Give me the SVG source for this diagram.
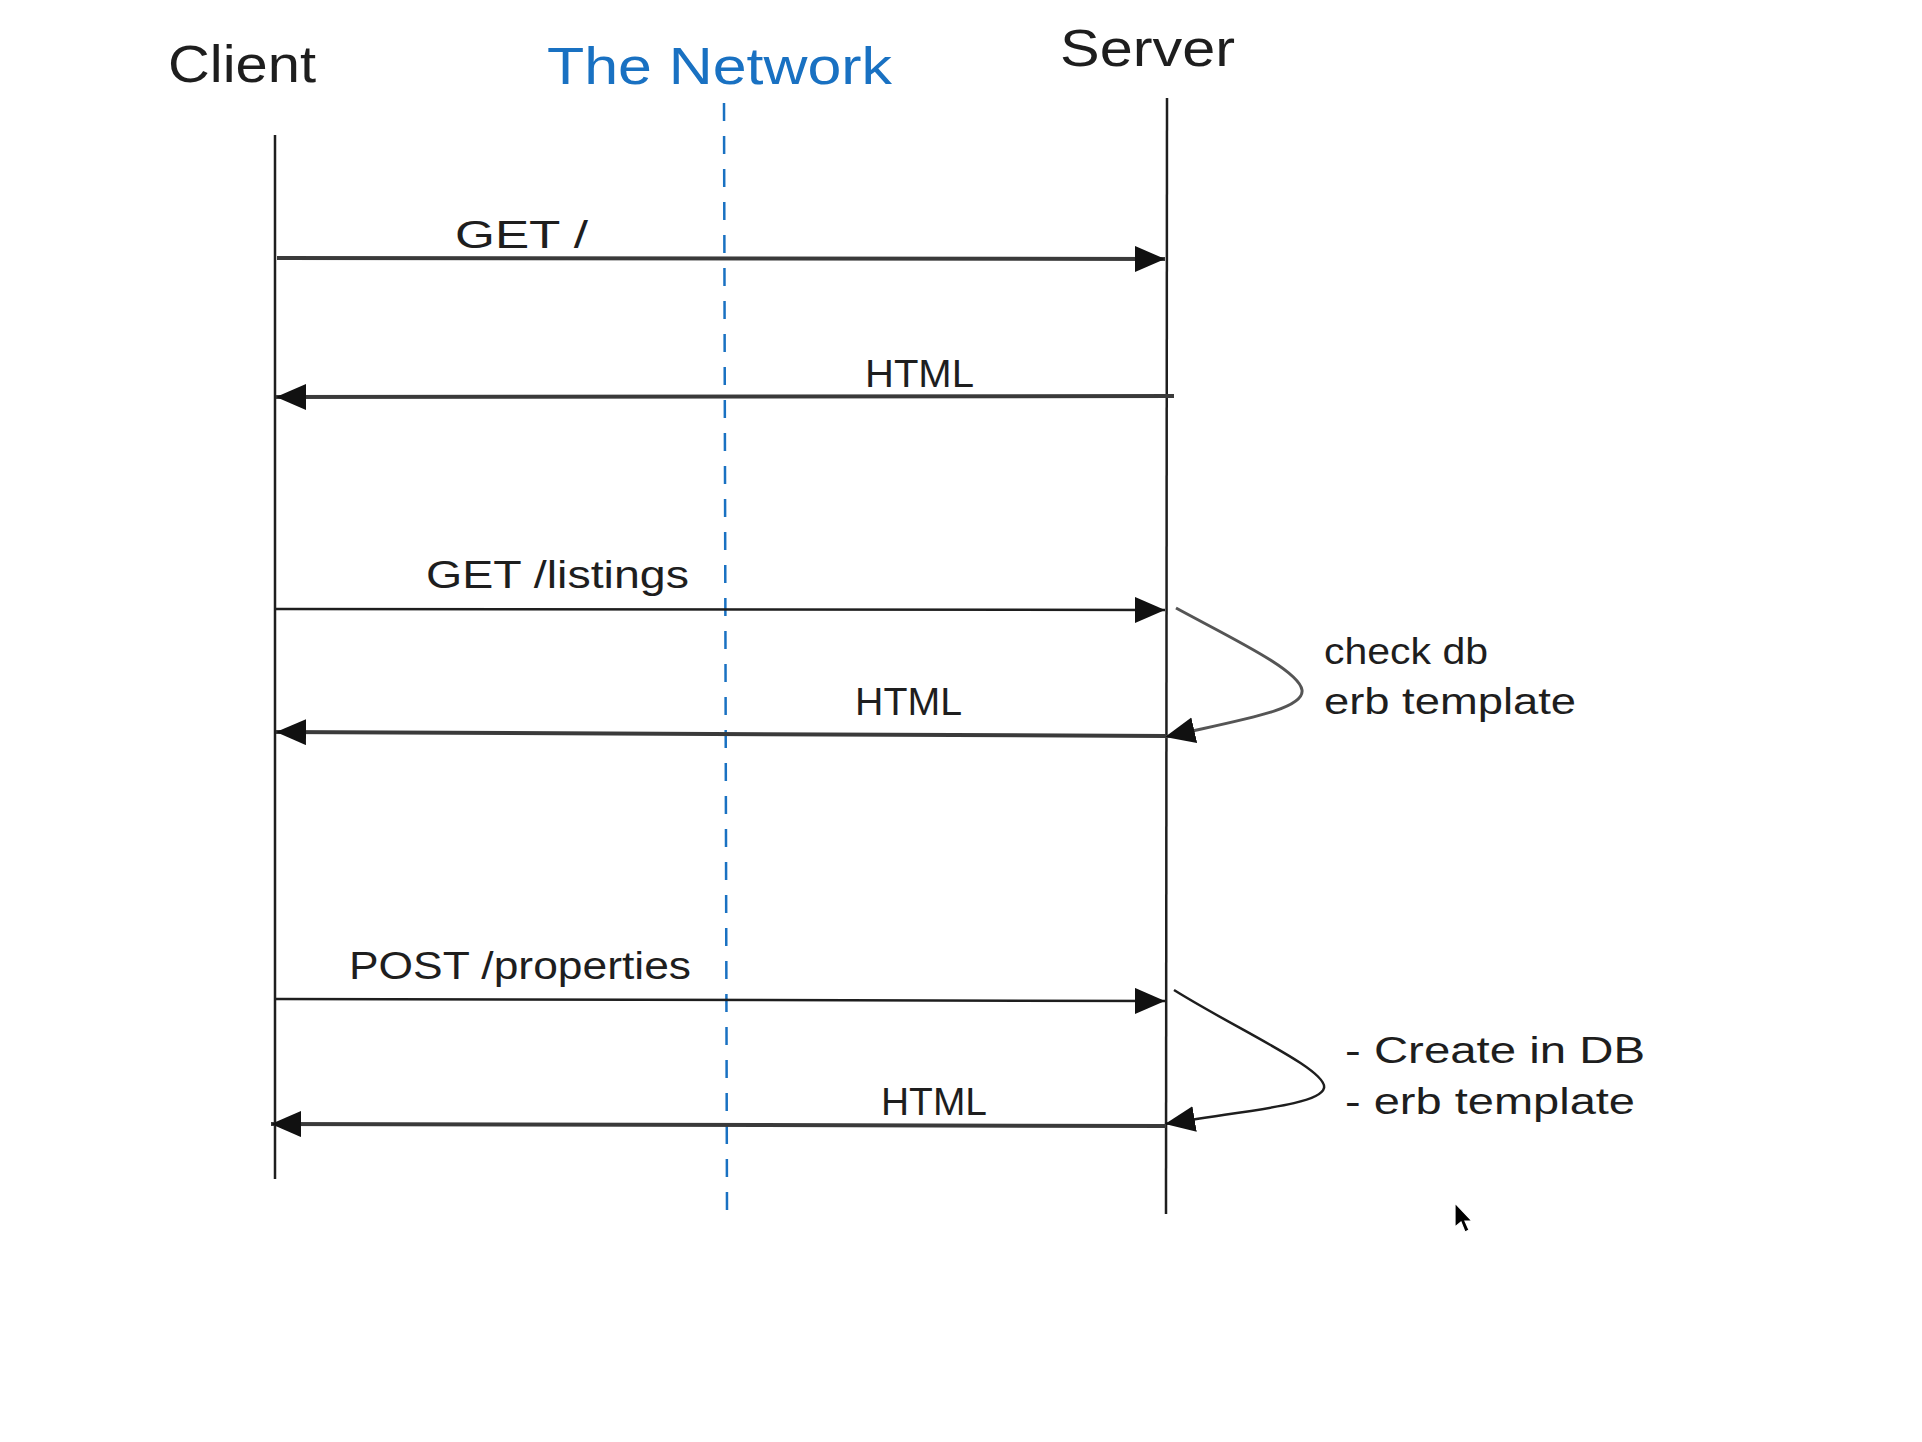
<svg xmlns="http://www.w3.org/2000/svg" width="1922" height="1442" viewBox="0 0 1922 1442">
<style>
  text { font-family: "Liberation Sans", "DejaVu Sans", sans-serif; fill: #1e1e1e; }
  .title { font-size: 52px; }
  .label { font-size: 38px; }
  .note { font-size: 37px; }
  .life { stroke: #1e1e1e; stroke-width: 2.5; fill: none; }
  .net { stroke: #1971c2; stroke-width: 2.5; stroke-dasharray: 18 15; fill: none; }
  .msg { stroke: #1e1e1e; stroke-width: 2.5; fill: none; }
  .msg-thick { stroke: #3a3a3a; stroke-width: 4; fill: none; }
</style>
<defs>
  <marker id="arrow" markerUnits="userSpaceOnUse" markerWidth="32" markerHeight="28" refX="30" refY="13" orient="auto" viewBox="0 0 32 28">
    <path d="M0,0 L30,13 L0,26 Z" fill="#111"/>
  </marker>
</defs>
<rect width="1922" height="1442" fill="#ffffff"/>

<g id="client">
  <text class="title" x="168" y="82" textLength="148" lengthAdjust="spacingAndGlyphs">Client</text>
  <line class="life" x1="275" y1="135" x2="275" y2="1179"/>
</g>
<g id="network">
  <text class="title" x="547" y="84" textLength="345" lengthAdjust="spacingAndGlyphs" style="fill:#1971c2">The Network</text>
  <line class="net" x1="724" y1="103" x2="727" y2="1213"/>
</g>
<g id="server">
  <text class="title" x="1060" y="66" textLength="175" lengthAdjust="spacingAndGlyphs">Server</text>
  <line class="life" x1="1167" y1="98" x2="1166" y2="1214"/>
</g>
<g id="note-listings">
  <text class="note" x="1324" y="664" textLength="164" lengthAdjust="spacingAndGlyphs">check db</text>
  <text class="note" x="1324" y="714" textLength="252" lengthAdjust="spacingAndGlyphs">erb template</text>
</g>
<g id="note-properties">
  <text class="note" x="1345" y="1063" textLength="300" lengthAdjust="spacingAndGlyphs">- Create in DB</text>
  <text class="note" x="1345" y="1114" textLength="290" lengthAdjust="spacingAndGlyphs">- erb template</text>
</g>

<g id="connectors">
  <line class="msg-thick" x1="277" y1="258" x2="1165" y2="259" marker-end="url(#arrow)"/>
  <text class="label" x="455" y="248" textLength="133" lengthAdjust="spacingAndGlyphs">GET /</text>

  <line class="msg-thick" x1="1174" y1="396" x2="276" y2="397" marker-end="url(#arrow)"/>
  <text class="label" x="865" y="387" textLength="109" lengthAdjust="spacingAndGlyphs">HTML</text>

  <line class="msg" x1="276" y1="609" x2="1165" y2="610" marker-end="url(#arrow)"/>
  <text class="label" x="426" y="588" textLength="263" lengthAdjust="spacingAndGlyphs">GET /listings</text>

  <path class="msg" d="M1176,608 C1231,638 1299,670 1302,690 C1305,710 1239,720 1165,737" marker-end="url(#arrow)" style="stroke:#555;stroke-width:3"/>

  <line class="msg-thick" x1="1166" y1="736" x2="276" y2="732" marker-end="url(#arrow)"/>
  <text class="label" x="855" y="715" textLength="107" lengthAdjust="spacingAndGlyphs">HTML</text>

  <line class="msg" x1="276" y1="999" x2="1165" y2="1001" marker-end="url(#arrow)"/>
  <text class="label" x="349" y="979" textLength="342" lengthAdjust="spacingAndGlyphs">POST /properties</text>

  <path class="msg" d="M1174,990 C1238,1030 1328,1070 1324,1088 C1320,1105 1248,1110 1165,1124" marker-end="url(#arrow)"/>

  <line class="msg-thick" x1="1166" y1="1126" x2="271" y2="1124" marker-end="url(#arrow)"/>
  <text class="label" x="881" y="1115" textLength="106" lengthAdjust="spacingAndGlyphs">HTML</text>
</g>

<polygon points="1455,1203 1455,1227 1461,1222 1465,1232 1469,1230 1465,1221 1472,1221" fill="#000" stroke="#fff" stroke-width="1.2"/>
</svg>
